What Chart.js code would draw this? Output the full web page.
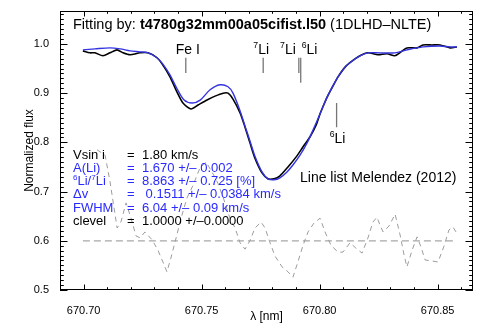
<!DOCTYPE html>
<html><head><meta charset="utf-8">
<script src="https://cdn.jsdelivr.net/npm/chart.js@4.4.0/dist/chart.umd.min.js"></script>
<style>html,body{margin:0;padding:0;background:#fff;}#wrap{width:491px;height:331px;}</style>
</head><body><div id="wrap"><canvas id="c" width="491" height="331"></canvas></div>
<script>
// ---- data ----
const obsWave = [670.6997,670.7027,670.7048,670.7082,670.7112,670.7142,670.7167,670.7197,670.7239,670.7273,670.7311,670.7336,670.7366,670.7396,670.7421,670.7455,670.7485,670.7523,670.7557,670.7591,670.7612,670.7633,670.7663,670.7684,670.7705,670.7726,670.7756,670.7781,670.7807,670.7832,670.7866,670.7900,670.7930,670.7959,670.7985,670.8002,670.8019,670.8036,670.8057,670.8078,670.8108,670.8137,670.8171,670.8205,670.8247,670.8286,670.8319,670.8345,670.8370,670.8413,670.8438,670.8476,670.8510,670.8553,670.8582];
const obsFlux = [0.986,0.982,0.982,0.976,0.982,0.988,0.982,0.978,0.982,0.982,0.972,0.957,0.933,0.902,0.880,0.868,0.876,0.886,0.894,0.900,0.900,0.888,0.860,0.831,0.799,0.768,0.738,0.726,0.726,0.732,0.750,0.770,0.791,0.811,0.835,0.858,0.878,0.896,0.915,0.933,0.953,0.965,0.976,0.982,0.978,0.980,0.976,0.984,0.992,0.992,0.998,0.998,0.998,0.992,0.994];
const fitWave = [670.6997,670.7048,670.7112,670.7155,670.7197,670.7239,670.7273,670.7311,670.7336,670.7366,670.7396,670.7426,670.7460,670.7494,670.7536,670.7578,670.7612,670.7633,670.7663,670.7684,670.7705,670.7726,670.7756,670.7781,670.7807,670.7832,670.7862,670.7887,670.7917,670.7947,670.7972,670.8002,670.8036,670.8078,670.8108,670.8137,670.8171,670.8205,670.8256,670.8319,670.8370,670.8438,670.8510,670.8553,670.8582];
const fitFlux = [0.988,0.990,0.992,0.990,0.986,0.984,0.982,0.972,0.959,0.937,0.909,0.886,0.880,0.886,0.907,0.917,0.913,0.900,0.864,0.833,0.803,0.772,0.740,0.726,0.724,0.728,0.740,0.754,0.774,0.799,0.825,0.858,0.896,0.933,0.953,0.965,0.976,0.982,0.982,0.982,0.988,0.994,0.996,0.994,0.994];
const resWave = [670.7057,670.7091,670.7112,670.7129,670.7142,670.7158,670.7180,670.7201,670.7222,670.7239,670.7260,670.7290,670.7315,670.7336,670.7353,670.7370,670.7392,670.7413,670.7438,670.7464,670.7493,670.7519,670.7544,670.7569,670.7595,670.7620,670.7642,670.7663,670.7684,670.7705,670.7726,670.7752,670.7769,670.7790,670.7811,670.7841,670.7866,670.7887,670.7908,670.7930,670.7951,670.7976,670.8002,670.8023,670.8048,670.8078,670.8099,670.8129,670.8154,670.8180,670.8205,670.8226,670.8243,670.8256,670.8269,670.8294,670.8320,670.8341,670.8358,670.8370,670.8392,670.8413,670.8430,670.8447,670.8476,670.8502,670.8527,670.8548,670.8565,670.8578];
const resFlux = [0.785,0.774,0.720,0.667,0.626,0.638,0.677,0.646,0.610,0.606,0.618,0.602,0.581,0.557,0.537,0.565,0.606,0.646,0.687,0.713,0.748,0.760,0.740,0.717,0.683,0.646,0.626,0.596,0.583,0.600,0.626,0.638,0.626,0.596,0.569,0.547,0.537,0.526,0.557,0.591,0.618,0.636,0.646,0.618,0.591,0.577,0.577,0.596,0.585,0.575,0.606,0.638,0.648,0.632,0.618,0.630,0.654,0.612,0.571,0.547,0.581,0.608,0.587,0.561,0.559,0.557,0.589,0.622,0.628,0.618];
const resLevel = 0.6;
const resLevelRange = [670.6997, 670.8582];
const xTicks = [670.70, 670.75, 670.80, 670.85];
const yTicks = [0.5, 0.6, 0.7, 0.8, 0.9, 1.0];
const lineNames = ['Fe I', '^7Li', '^7Li', '^6Li', '^6Li'];
const lineWave = [670.7433, 670.7761, 670.7912, 670.7920, 670.8072];
const lineTop = [0.972, 0.972, 0.972, 0.972, 0.880];
const lineBottom = [0.941, 0.941, 0.941, 0.921, 0.831];
const paramNames = ['Vsin i', 'A(Li)', '^6Li/^7Li', '\u0394v', 'FWHM', 'clevel'];
const paramValues = ['1.80 km/s', '1.670 +/\u2013 0.002', '8.863 +/\u2013 0.725 [%]', ' 0.1511 +/\u2013 0.0384 km/s', '6.04 +/\u2013 0.09 km/s', '1.0000 +/\u20130.0000'];
const paramFitted = [false, true, true, true, true, false];
const titleParts = ['Fitting by: ', 't4780g32mm00a05cifist.l50', ' (1DLHD\u2013NLTE)'];
const noteText = 'Line list Melendez (2012)';

// ---- styling / layout ----
const FAM = '"Liberation Sans", Arial, Helvetica, sans-serif';
const BLUE_TXT = '#2a2aff';
const BLUE_LINE = '#3434e0';
const X_MIN = 670.69, X_MAX = 670.865, Y_MIN = 0.5, Y_MAX = 1.067;
const labelStyle = [
  {align:'center', dx:2, y:0.980},
  {align:'center', dx:-2, y:0.980},
  {align:'right', dx:-3, y:0.980},
  {align:'left', dx:1, y:0.980},
  {align:'center', dx:1, y:0.799}
];

function parseSup(str) {
  const segs = []; let buf = '';
  for (let i = 0; i < str.length; i++) {
    if (str[i] === '^') { if (buf) { segs.push({t:buf}); buf=''; } segs.push({t:str[i+1], sup:true}); i++; }
    else buf += str[i];
  }
  if (buf) segs.push({t:buf});
  return segs;
}
function drawSegs(ctx, segs, x, y, size, color, align) {
  const parts = segs.map(s => {
    const fs = s.sup ? size * 0.62 : size;
    const font = (s.bold ? 'bold ' : '') + fs + 'px ' + FAM;
    ctx.font = font;
    return {t:s.t, font, w:ctx.measureText(s.t).width, dy: s.sup ? -size * 0.4 : 0};
  });
  const total = parts.reduce((a, p) => a + p.w, 0);
  let cx = align === 'center' ? x - total / 2 : (align === 'right' ? x - total : x);
  ctx.fillStyle = color; ctx.textAlign = 'left'; ctx.textBaseline = 'alphabetic';
  parts.forEach(p => { ctx.font = p.font; ctx.fillText(p.t, cx, y + p.dy); cx += p.w; });
}

const framePlugin = {
  id: 'frame',
  afterDatasetsDraw(chart) {
    const ctx = chart.ctx, ca = chart.chartArea;
    const xs = chart.scales.x, ys = chart.scales.y;
    ctx.save();
    // box
    ctx.strokeStyle = '#000'; ctx.lineWidth = 1;
    ctx.strokeRect(Math.round(ca.left) + 0.5, Math.round(ca.top) + 0.5, Math.round(ca.right - ca.left) - 1, Math.round(ca.bottom - ca.top) - 1);
    // x ticks (major + minor), bottom and top, inward
    ctx.beginPath();
    for (let k = 0; k <= 17; k++) {
      const v = 670.69 + k * 0.01;
      const px = Math.round(xs.getPixelForValue(v)) + 0.5;
      const major = xTicks.some(t => Math.abs(t - v) < 1e-6);
      const L = major ? 5.5 : 2.8;
      ctx.moveTo(px, ca.bottom); ctx.lineTo(px, ca.bottom - L);
      ctx.moveTo(px, ca.top); ctx.lineTo(px, ca.top + L);
    }
    for (let k = 0; k <= 56; k++) {
      const v = 0.5 + k * 0.01;
      const py = Math.round(ys.getPixelForValue(v)) + 0.5;
      const major = k % 10 === 0;
      const L = major ? 7.5 : 3.8;
      ctx.moveTo(ca.left, py); ctx.lineTo(ca.left + L, py);
      ctx.moveTo(ca.right, py); ctx.lineTo(ca.right - L, py);
    }
    ctx.stroke();
    // title
    const tsz = 14.5;
    drawSegs(ctx, [{t:titleParts[0]}, {t:titleParts[1], bold:true}, {t:titleParts[2]}], 73, 29, tsz, '#000', 'left');
    // line identifications
    lineNames.forEach((n, i) => {
      const st = labelStyle[i];
      drawSegs(ctx, parseSup(n), xs.getPixelForValue(lineWave[i]) + st.dx, ys.getPixelForValue(st.y), 14, '#000', st.align);
    });
    // parameter block
    paramNames.forEach((n, i) => {
      const col = paramFitted[i] ? BLUE_TXT : '#000';
      const y = 158.5 + i * 13.3;
      drawSegs(ctx, parseSup(n), 73, y, 13, col, 'left');
      drawSegs(ctx, [{t:'='}], 127, y, 13, col, 'left');
      drawSegs(ctx, [{t:paramValues[i]}], 142, y, 13, col, 'left');
    });
    drawSegs(ctx, [{t:noteText}], 300, 182, 14, '#000', 'left');
    ctx.restore();
  }
};

const pts = (xa, ya) => xa.map((x, i) => ({x, y: ya[i]}));
const datasets = [
  {data: pts(fitWave, fitFlux), borderColor: BLUE_LINE, borderWidth: 1.4, tension: 0.3, order: 0},
  {data: pts(obsWave, obsFlux), borderColor: '#000', borderWidth: 1.6, tension: 0.25, order: 1},
  {data: pts(resWave, resFlux), borderColor: '#9c9c9c', borderWidth: 1, borderDash: [5, 4], tension: 0, order: 3},
  {data: pts(resLevelRange, [resLevel, resLevel]), borderColor: '#a8a8a8', borderWidth: 1.2, borderDash: [7, 4], order: 4}
];
lineWave.forEach((w, i) => {
  datasets.push({data: [{x:w, y:lineTop[i]}, {x:w, y:lineBottom[i]}], borderColor: '#777', borderWidth: 1.3, order: 2});
});
datasets.forEach(d => { d.pointRadius = 0; d.fill = false; });

new Chart(document.getElementById('c'), {
  type: 'line',
  data: {datasets},
  options: {
    responsive: false, animation: false, devicePixelRatio: 1,
    layout: {padding: {left: 0, right: 18, top: 11, bottom: 0}},
    plugins: {legend: {display: false}, tooltip: {enabled: false}},
    scales: {
      x: {
        type: 'linear', min: X_MIN, max: X_MAX,
        grid: {display: false}, border: {display: false},
        afterBuildTicks: s => { s.ticks = xTicks.map(v => ({value: v})); },
        ticks: {callback: v => v.toFixed(2), font: {family: FAM, size: 11}, color: '#000', padding: 6, maxRotation: 0, autoSkip: false},
        title: {display: true, text: '\u03bb [nm]', font: {family: FAM, size: 12}, color: '#000', padding: {top: 0, bottom: 7}},
        afterFit: s => { s.height = 41; }
      },
      y: {
        min: Y_MIN, max: Y_MAX,
        grid: {display: false}, border: {display: false},
        afterBuildTicks: s => { s.ticks = yTicks.map(v => ({value: v})); },
        ticks: {callback: v => v.toFixed(1), font: {family: FAM, size: 11}, color: '#000', padding: 3, autoSkip: false},
        title: {display: true, text: 'Normalized flux', font: {family: FAM, size: 12}, color: '#000', padding: {top: 22, bottom: 0}},
        afterFit: s => { s.width = 60; }
      }
    }
  },
  plugins: [framePlugin]
});
</script></body></html>
